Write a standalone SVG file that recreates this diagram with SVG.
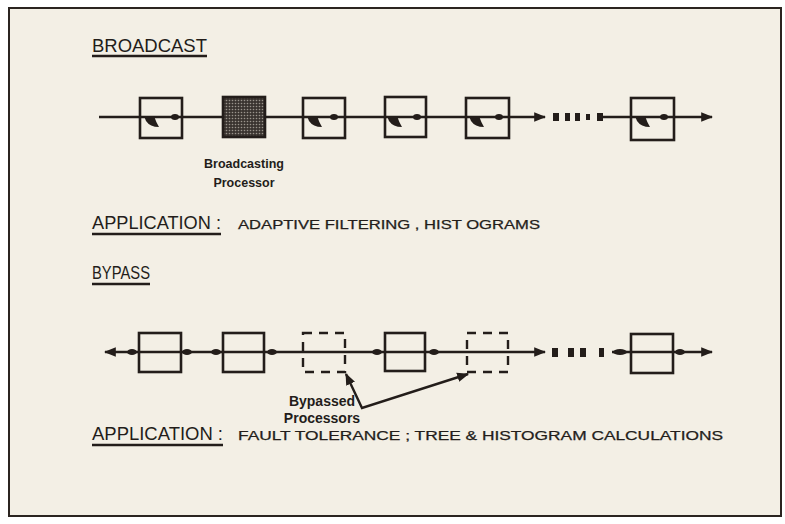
<svg xmlns="http://www.w3.org/2000/svg" width="785" height="524" viewBox="0 0 785 524">
<defs>
<style>
.frame{fill:#f3efe5;stroke:#2b2420;stroke-width:2}
.box{fill:none;stroke:#231d1a;stroke-width:2.6}
.dbox{fill:none;stroke:#231d1a;stroke-width:2.4;stroke-dasharray:9 7}
.ln{stroke:#231d1a;stroke-width:2.4;fill:none}
.ink{fill:#231d1a}
.head{font-family:"Liberation Sans",Arial,sans-serif;font-size:18px;fill:#231d1a}
.small{font-family:"Liberation Sans",Arial,sans-serif;font-size:12.5px;fill:#231d1a;stroke:#231d1a;stroke-width:0.25}
.lbl{font-family:"Liberation Sans",Arial,sans-serif;font-size:12.5px;font-weight:bold;fill:#231d1a;text-anchor:middle}
.lbl2{font-family:"Liberation Sans",Arial,sans-serif;font-size:14px;font-weight:bold;fill:#231d1a;text-anchor:middle}
</style>
<pattern id="stip" width="3" height="3" patternUnits="userSpaceOnUse">
<rect width="3" height="3" fill="#3a3430"/>
<circle cx="1.5" cy="1.5" r="0.8" fill="#9a948c"/>
</pattern>
<marker id="ah" viewBox="0 0 10 10" refX="9" refY="5" markerWidth="5" markerHeight="5" orient="auto-start-reverse">
<path d="M0,1 L10,5 L0,9 Z" fill="#231d1a"/>
</marker>
<path id="wedge" d="M0,0 L10,0 Q12,6 15,11 Q6,11 2,5 Z"/>
</defs>
<rect class="frame" x="9" y="8" width="772" height="508"/>

<g id="titles">
<text class="head" x="92" y="52" textLength="115" lengthAdjust="spacingAndGlyphs">BROADCAST</text>
<line class="ln" x1="92" y1="56" x2="207" y2="56" stroke-width="1.6"/>
<text class="head" x="92" y="229" textLength="129" lengthAdjust="spacingAndGlyphs">APPLICATION :</text>
<line class="ln" x1="92" y1="234" x2="221" y2="234" stroke-width="1.6"/>
<text class="small" x="238" y="229" textLength="302" lengthAdjust="spacingAndGlyphs">ADAPTIVE FILTERING , HIST OGRAMS</text>
<text class="head" x="92" y="279" textLength="58" lengthAdjust="spacingAndGlyphs">BYPASS</text>
<line class="ln" x1="92" y1="284" x2="150" y2="284" stroke-width="1.6"/>
<text class="head" x="92" y="440" textLength="131" lengthAdjust="spacingAndGlyphs">APPLICATION :</text>
<line class="ln" x1="92" y1="445" x2="223" y2="445" stroke-width="1.6"/>
<text class="small" x="238" y="440" textLength="485" lengthAdjust="spacingAndGlyphs">FAULT TOLERANCE ; TREE &amp; HISTOGRAM CALCULATIONS</text>
</g>

<g id="connectors">
<!-- broadcast row -->
<line class="ln" x1="99" y1="117" x2="545" y2="117" marker-end="url(#ah)"/>
<line class="ln" x1="600" y1="117" x2="712" y2="117" marker-end="url(#ah)"/>
<g class="ink">
<rect x="553" y="113" width="6" height="8"/>
<rect x="565" y="113" width="5" height="8"/>
<rect x="575" y="113" width="5" height="8"/>
<rect x="586" y="114" width="4" height="6"/>
<rect x="597" y="113" width="6" height="8"/>
</g>
<!-- bypass row -->
<line class="ln" x1="105" y1="352" x2="545" y2="352" marker-start="url(#ah)" marker-end="url(#ah)"/>
<line class="ln" x1="612" y1="352" x2="712" y2="352" marker-end="url(#ah)"/>
<g class="ink">
<rect x="552" y="348" width="6" height="9"/>
<rect x="568" y="348" width="6" height="9"/>
<rect x="580" y="348" width="6" height="9"/>
<rect x="599" y="348" width="5" height="9"/>
<ellipse cx="132" cy="352" rx="5" ry="3"/>
<ellipse cx="187" cy="352" rx="5" ry="3"/>
<ellipse cx="216" cy="352" rx="5" ry="3"/>
<ellipse cx="272" cy="352" rx="5" ry="3"/>
<ellipse cx="377" cy="352" rx="5" ry="3"/>
<ellipse cx="434" cy="352" rx="5" ry="3"/>
<ellipse cx="620" cy="352" rx="7" ry="3"/>
<ellipse cx="680" cy="352" rx="5" ry="3"/>
</g>
<!-- bypassed pointer -->
<polyline class="ln" points="346,374 362,408 468,374" marker-start="url(#ah)" marker-end="url(#ah)"/>
</g>

<g id="bc1"><rect class="box" x="140" y="98" width="42" height="40"/><use href="#wedge" class="ink" x="144" y="116"/><ellipse class="ink" cx="175" cy="117" rx="4" ry="3"/></g>
<g id="bc2"><rect class="box" x="223" y="97" width="42" height="40" style="fill:url(#stip)"/></g>
<g id="bc3"><rect class="box" x="303" y="98" width="42" height="40"/><use href="#wedge" class="ink" x="307" y="116"/><ellipse class="ink" cx="334" cy="117" rx="4" ry="3"/></g>
<g id="bc4"><rect class="box" x="385" y="97" width="41" height="40"/><use href="#wedge" class="ink" x="387" y="116"/><ellipse class="ink" cx="417" cy="117" rx="4" ry="3"/></g>
<g id="bc5"><rect class="box" x="466" y="98" width="43" height="40"/><use href="#wedge" class="ink" x="469" y="116"/><ellipse class="ink" cx="499" cy="117" rx="4" ry="3"/></g>
<g id="bc6"><rect class="box" x="631" y="98" width="43" height="42"/><use href="#wedge" class="ink" x="635" y="116"/><ellipse class="ink" cx="664" cy="117" rx="4" ry="3"/></g>
<g id="bcLabel"><text class="lbl" x="244" y="168">Broadcasting</text><text class="lbl" x="244" y="187">Processor</text></g>

<g id="bp1"><rect class="box" x="139" y="333" width="42" height="39"/></g>
<g id="bp2"><rect class="box" x="223" y="333" width="41" height="39"/></g>
<g id="bp3"><rect class="dbox" x="303" y="333" width="42" height="39"/></g>
<g id="bp4"><rect class="box" x="385" y="333" width="40" height="38"/></g>
<g id="bp5"><rect class="dbox" x="467" y="333" width="41" height="39"/></g>
<g id="bp6"><rect class="box" x="631" y="334" width="42" height="39"/></g>
<g id="bpLabel"><text class="lbl2" x="322" y="406">Bypassed</text><text class="lbl2" x="322" y="423">Processors</text></g>
</svg>
